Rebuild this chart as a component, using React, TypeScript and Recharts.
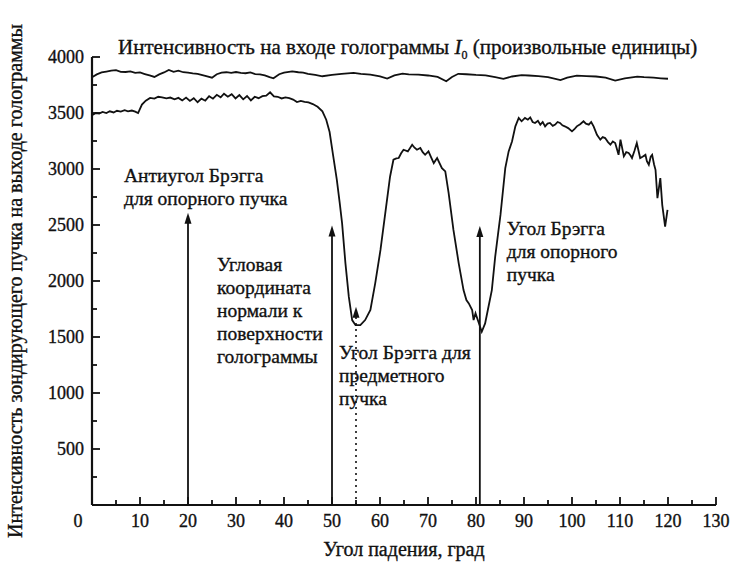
import { LineChart, Line, XAxis, YAxis, ReferenceLine } from 'recharts'

// input intensity I0 (upper trace)
const refAngle = [0, 1, 2, 3, 4, 5, 6, 7, 8, 9, 10, 11, 12, 13, 14, 15, 16, 17, 18, 19, 20, 21, 22, 23, 24, 25, 26, 27, 28, 29, 30, 31, 32, 33, 34, 35, 36, 37, 37.8, 39, 40, 41.7, 43, 44, 45, 46.5, 48, 50, 52, 54.5, 56, 58, 60, 61.5, 63, 64.7, 66, 68, 70, 72, 73.8, 75, 76.3, 78, 80, 82, 84, 85.7, 87.5, 89.5, 91, 93, 95, 97.6, 99, 101, 103, 105, 107, 109, 111, 113.6, 115, 117, 118.5, 120]
const refIntensity = [3820, 3845, 3862, 3870, 3878, 3882, 3868, 3866, 3872, 3858, 3862, 3848, 3835, 3822, 3845, 3862, 3885, 3868, 3878, 3864, 3860, 3854, 3850, 3838, 3826, 3815, 3846, 3860, 3864, 3858, 3866, 3858, 3855, 3862, 3848, 3845, 3835, 3820, 3810, 3846, 3860, 3872, 3864, 3860, 3850, 3840, 3828, 3840, 3850, 3858, 3850, 3842, 3826, 3808, 3836, 3852, 3845, 3842, 3835, 3822, 3784, 3822, 3850, 3846, 3840, 3836, 3820, 3805, 3826, 3838, 3835, 3830, 3820, 3794, 3815, 3834, 3830, 3826, 3815, 3790, 3810, 3825, 3820, 3815, 3810, 3806]

// probe intensity at the hologram output (lower trace)
const probeAngle = [0, 0.8, 1.5, 2.2, 3, 3.7, 4.5, 5.2, 6, 6.8, 7.5, 8.3, 9, 9.6, 10.4, 11.2, 12.1, 13, 13.8, 14.6, 15.5, 16.3, 17.2, 18, 18.8, 19.6, 20.4, 21.2, 22, 22.8, 23.6, 24.4, 25.2, 26, 26.8, 27.5, 28.3, 29.1, 29.9, 30.7, 31.5, 32.3, 33.1, 33.9, 34.7, 35.5, 36.3, 37.1, 37.9, 38.7, 39.5, 40.3, 41.1, 41.9, 42.7, 43.5, 44.3, 45.1, 46, 47, 48, 48.8, 49.5, 50.2, 51, 51.6, 52.1, 52.8, 53.5, 54.2, 54.9, 55.9, 56.9, 58, 59, 60.1, 61.1, 62.1, 62.8, 63.4, 63.9, 64.4, 64.9, 65.8, 66.7, 67.2, 67.7, 68.4, 68.9, 69.4, 70.1, 70.7, 71.2, 71.9, 72.9, 73.6, 74.3, 75.3, 76.4, 77.4, 78, 78.5, 79.2, 79.5, 79.9, 80.5, 81.2, 81.9, 82.6, 83.3, 84, 84.7, 85.1, 86.1, 86.8, 87.5, 88.2, 88.9, 89.5, 90.2, 90.8, 91.3, 91.8, 92.3, 92.9, 93.4, 93.9, 94.4, 94.9, 95.4, 96, 96.5, 97, 97.5, 98, 98.5, 99.2, 100, 100.5, 101, 101.7, 102.4, 102.9, 103.5, 104, 104.5, 105.2, 105.9, 106.4, 106.9, 107.5, 108, 108.5, 109, 109.7, 110.1, 110.8, 111.3, 111.8, 112.2, 112.5, 113, 113.5, 114.2, 114.7, 115.3, 115.6, 116, 116.4, 116.7, 117.1, 117.4, 117.8, 118.4, 118.8, 119.4, 119.9]
const probeIntensity = [3480, 3500, 3495, 3510, 3500, 3515, 3505, 3520, 3512, 3525, 3515, 3522, 3512, 3500, 3575, 3610, 3635, 3628, 3645, 3640, 3630, 3638, 3622, 3635, 3612, 3638, 3608, 3632, 3596, 3628, 3610, 3650, 3628, 3662, 3640, 3672, 3645, 3668, 3630, 3660, 3622, 3652, 3612, 3645, 3632, 3650, 3655, 3685, 3648, 3645, 3630, 3640, 3632, 3620, 3598, 3608, 3600, 3595, 3580, 3555, 3515, 3440, 3330, 3130, 2905, 2700, 2516, 2158, 1860, 1651, 1606, 1606, 1651, 1741, 1979, 2277, 2606, 2933, 3083, 3095, 3098, 3140, 3172, 3157, 3217, 3190, 3172, 3187, 3150, 3127, 3157, 3100, 3053, 3098, 3008, 2979, 2785, 2456, 2158, 1919, 1830, 1800, 1741, 1651, 1711, 1636, 1547, 1621, 1770, 1919, 2217, 2456, 2590, 3008, 3157, 3246, 3381, 3456, 3426, 3456, 3440, 3461, 3420, 3411, 3430, 3396, 3420, 3381, 3405, 3411, 3385, 3396, 3420, 3411, 3390, 3381, 3365, 3336, 3355, 3381, 3400, 3426, 3405, 3396, 3420, 3381, 3306, 3262, 3285, 3276, 3240, 3217, 3245, 3232, 3127, 3262, 3113, 3150, 3143, 3120, 3098, 3160, 3232, 3098, 3110, 3127, 3070, 3038, 3110, 3127, 3040, 2993, 2740, 2919, 2680, 2486, 2635]

const xTicks = Array.from({ length: 27 }, (_, i) => i * 5)
const yTicks = Array.from({ length: 16 }, (_, i) => (i + 1) * 250)

// annotation arrows
const arrowAngle = [20, 50, 55, 80.8]
const arrowTip = [2610, 2495, 1770, 2490]
const arrowNotes = [
  ['Антиугол Брэгга', 'для опорного пучка'],
  ['Угловая', 'координата', 'нормали к', 'поверхности', 'голограммы'],
  ['Угол Брэгга для', 'предметного', 'пучка'],
  ['Угол Брэгга', 'для опорного', 'пучка'],
]
const noteOffset = [[-64, -37], [-115, 39], [-17, 46], [27, 3]]

const FONT = 'Liberation Serif, Times New Roman, serif'
const INK = '#111'
const txt = { fontFamily: FONT, fontSize: 18, fill: INK, stroke: INK, strokeWidth: 0.35 }

const refData = refAngle.map((a, i) => ({ angle: a, value: refIntensity[i] }))
const probeData = probeAngle.map((a, i) => ({ angle: a, value: probeIntensity[i] }))

function XTick(props: any) {
  const { x, y, payload } = props
  const major = payload.value % 10 === 0
  return (
    <g>
      <line x1={x} y1={y} x2={x} y2={y - (major ? 8 : 5)} stroke={INK} strokeWidth={1.8} />
      {major && (
        <text x={x} y={y + 22} dx={payload.value === 0 ? -14 : 0} textAnchor="middle" style={txt}>
          {payload.value}
        </text>
      )}
    </g>
  )
}

function YTick(props: any) {
  const { x, y, payload } = props
  const major = payload.value % 500 === 0
  return (
    <g>
      <line x1={x} y1={y} x2={x + (major ? 8 : 5)} y2={y} stroke={INK} strokeWidth={1.8} />
      {major && (
        <text x={x - 8} y={y + 6} textAnchor="end" style={txt}>
          {payload.value}
        </text>
      )}
    </g>
  )
}

function Arrow(props: any) {
  const { x1, y1, x2, y2, notes, offset, dotted } = props
  const tipY = Math.min(y1, y2)
  const baseY = Math.max(y1, y2)
  const x = x2 ?? x1
  return (
    <g>
      <line x1={x} y1={baseY} x2={x} y2={tipY + 8} stroke={INK} strokeWidth={dotted ? 1.6 : 1.8} strokeDasharray={dotted ? '2 4' : undefined} />
      <polygon points={`${x},${tipY} ${x - 3.5},${tipY + 11} ${x + 3.5},${tipY + 11}`} fill={INK} />
      <text x={x + offset[0]} y={tipY + offset[1] + 6} style={{ ...txt, fontSize: 19.5 }}>
        {notes.map((t: string, i: number) => (
          <tspan key={i} x={x + offset[0]} dy={i === 0 ? 0 : 23}>{t}</tspan>
        ))}
      </text>
    </g>
  )
}

export default function App() {
  return (
    <div style={{ position: 'absolute', left: 0, top: 0, width: 734, height: 568, background: '#fff', fontFamily: FONT }}>
      <div style={{ position: 'absolute', left: 118, top: 35, fontSize: 21, lineHeight: '24px', whiteSpace: 'nowrap', color: INK, WebkitTextStroke: '0.35px #111' }}>
        Интенсивность на входе голограммы <i>I</i><sub style={{ fontSize: 12 }}>0</sub> (произвольные единицы)
      </div>
      <LineChart width={734} height={568} margin={{ top: 57, right: 18, bottom: 0, left: 0 }} style={{ fontFamily: FONT }}>
        <XAxis
          type="number"
          dataKey="angle"
          domain={[0, 130]}
          ticks={xTicks}
          interval={0}
          tickSize={0}
          tickMargin={0}
          tickLine={false}
          tick={<XTick />}
          height={63}
          axisLine={{ stroke: INK, strokeWidth: 2.2 }}
          label={{
            content: (p: any) => (
              <text x={p.viewBox.x + p.viewBox.width / 2} y={p.viewBox.y + 51} textAnchor="middle" style={{ ...txt, fontSize: 20 }}>
                Угол падения, град
              </text>
            ),
          }}
        />
        <YAxis
          type="number"
          domain={[0, 4000]}
          ticks={yTicks}
          interval={0}
          tickSize={0}
          tickMargin={0}
          tickLine={false}
          tick={<YTick />}
          width={92}
          axisLine={{ stroke: INK, strokeWidth: 2.2 }}
          label={{
            content: (p: any) => {
              const cx = p.viewBox.x + 15
              const cy = p.viewBox.y + p.viewBox.height / 2
              return (
                <text x={cx} y={cy} transform={`rotate(-90, ${cx}, ${cy})`} textAnchor="middle" dominantBaseline="central" style={{ ...txt, fontSize: 20 }}>
                  Интенсивность зондирующего пучка на выходе голограммы
                </text>
              )
            },
          }}
        />
        <Line data={refData} dataKey="value" type="linear" stroke={INK} strokeWidth={1.8} dot={false} isAnimationActive={false} />
        <Line data={probeData} dataKey="value" type="linear" stroke={INK} strokeWidth={1.8} dot={false} isAnimationActive={false} />
        {arrowAngle.map((a, i) => (
          <ReferenceLine
            key={a}
            segment={[{ x: a, y: 0 }, { x: a, y: arrowTip[i] }]}
            shape={(p: any) => <Arrow {...p} notes={arrowNotes[i]} offset={noteOffset[i]} dotted={a === 55} />}
          />
        ))}
      </LineChart>
    </div>
  )
}
